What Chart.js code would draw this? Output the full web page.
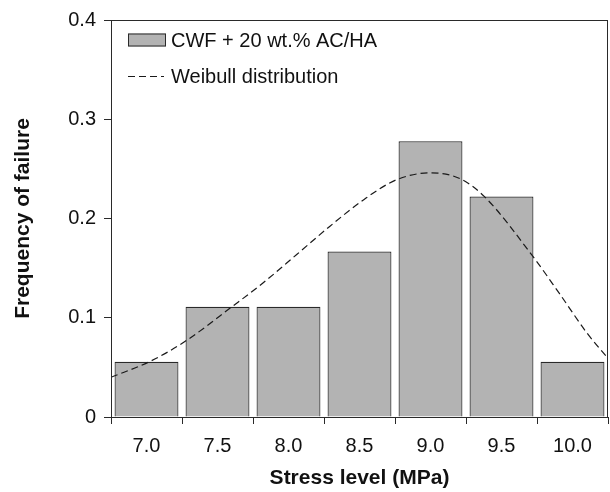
<!DOCTYPE html>
<html>
<head>
<meta charset="utf-8">
<script src="https://cdn.jsdelivr.net/npm/chart.js@4.4.1/dist/chart.umd.min.js"></script>
<style>
  html, body { margin: 0; padding: 0; background: #fff; }
  #wrap { width: 610px; height: 492px; }
</style>
</head>
<body>
<div id="wrap"><canvas id="weibullChart"></canvas></div>
<script>
const stressLevels = ["7.0", "7.5", "8.0", "8.5", "9.0", "9.5", "10.0"];
const failureFreq = [0.0556, 0.1111, 0.1111, 0.1667, 0.2778, 0.2222, 0.0556];

// dashed Weibull curve (stress in MPa, frequency)
const weibullX = [6.75, 7.025, 7.27, 7.61, 7.82, 8.06, 8.29, 8.53, 8.76, 9.00, 9.21, 9.38, 9.72, 9.91, 10.10, 10.25];
const weibullY = [0.040, 0.056, 0.076, 0.112, 0.135, 0.164, 0.192, 0.219, 0.239, 0.246, 0.240, 0.222, 0.162, 0.124, 0.085, 0.059];

const yTicks = [0, 0.1, 0.2, 0.3, 0.4];

const FONT = "'Liberation Sans', Arial, sans-serif";
const INK = "#111";

const frameBox = {
  id: "frameBox",
  afterDraw(chart) {
    const { ctx, chartArea: a } = chart;
    ctx.save();
    ctx.strokeStyle = "#2a2a2a";
    ctx.lineWidth = 1;
    ctx.strokeRect(a.left + 0.5, a.top + 0.5, a.right - a.left - 1, a.bottom - a.top);
    ctx.restore();
  }
};

// legend drawn inside the plot, top left
const insideLegend = {
  id: "insideLegend",
  afterDraw(chart) {
    const { ctx } = chart;
    const ds = chart.data.datasets;
    const x0 = 128, y1 = 40, y2 = 76;
    ctx.save();
    ctx.font = "20px " + FONT;
    ctx.textBaseline = "middle";

    ctx.fillStyle = ds[0].backgroundColor;
    ctx.fillRect(x0, y1 - 6.5, 38, 13);
    ctx.strokeStyle = ds[0].borderColor;
    ctx.lineWidth = 1;
    ctx.strokeRect(x0 + 0.5, y1 - 6, 37, 12);
    ctx.fillStyle = INK;
    ctx.fillText(ds[0].label, 171, y1 + 1);

    ctx.strokeStyle = ds[1].borderColor;
    ctx.lineWidth = 1.2;
    ctx.setLineDash(ds[1].borderDash);
    ctx.beginPath();
    ctx.moveTo(x0, y2 + 0.5);
    ctx.lineTo(x0 + 36, y2 + 0.5);
    ctx.stroke();
    ctx.setLineDash([]);
    ctx.fillText(ds[1].label, 171, y2 + 1);
    ctx.restore();
  }
};

new Chart(document.getElementById("weibullChart"), {
  type: "bar",
  data: {
    labels: stressLevels,
    datasets: [
      {
        label: "CWF + 20 wt.% AC/HA",
        data: failureFreq,
        backgroundColor: "#b3b3b3",
        borderColor: "#2a2a2a",
        borderWidth: 1.2,
        grouped: false,
        categoryPercentage: 1,
        barPercentage: 0.9,
        order: 2
      },
      {
        type: "line",
        label: "Weibull distribution",
        xAxisID: "xLin",
        data: weibullX.map((x, i) => ({ x: x, y: weibullY[i] })),
        borderColor: "#1a1a1a",
        borderWidth: 1.2,
        borderDash: [7, 4],
        pointRadius: 0,
        fill: false,
        cubicInterpolationMode: "monotone",
        order: 1
      }
    ]
  },
  options: {
    responsive: true,
    maintainAspectRatio: false,
    animation: false,
    layout: { padding: { top: 17, right: 2, left: 0, bottom: 0 } },
    plugins: {
      legend: { display: false },
      tooltip: { enabled: false }
    },
    scales: {
      x: {
        offset: true,
        grid: {
          offset: true,
          drawOnChartArea: false,
          drawTicks: true,
          tickLength: 7,
          color: "#2a2a2a"
        },
        border: { display: true, color: "#2a2a2a" },
        ticks: {
          color: INK,
          font: { family: FONT, size: 20 },
          padding: 10,
          maxRotation: 0
        },
        title: {
          display: true,
          text: "Stress level (MPa)",
          color: INK,
          font: { family: FONT, size: 21, weight: "bold" },
          padding: { top: 0, bottom: 1 }
        },
        afterFit(scale) { scale.height = 75; }
      },
      xLin: {
        type: "linear",
        axis: "x",
        position: "bottom",
        display: false,
        offset: false,
        grid: { offset: false },
        min: 6.75,
        max: 10.25
      },
      y: {
        min: 0,
        max: 0.4,
        afterBuildTicks(scale) { scale.ticks = yTicks.map(v => ({ value: v })); },
        grid: {
          drawOnChartArea: false,
          tickLength: 7,
          color: "#2a2a2a"
        },
        border: { display: true, color: "#2a2a2a" },
        ticks: {
          color: INK,
          font: { family: FONT, size: 20 },
          padding: 8,
          callback: v => String(v)
        },
        title: {
          display: true,
          text: "Frequency of failure",
          color: INK,
          font: { family: FONT, size: 21, weight: "bold" },
          padding: { top: 11, bottom: 0 }
        },
        afterFit(scale) { scale.width = 111; }
      }
    }
  },
  plugins: [frameBox, insideLegend]
});
</script>
</body>
</html>
